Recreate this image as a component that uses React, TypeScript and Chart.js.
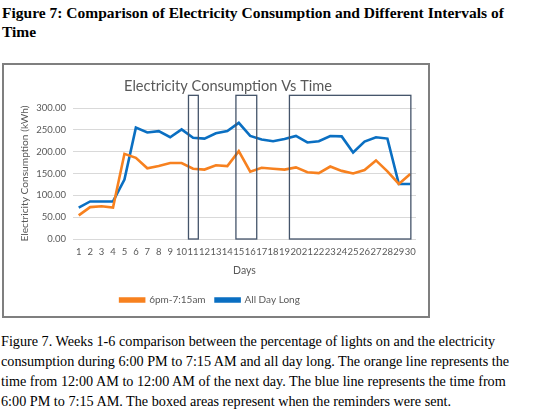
import { useEffect, useRef } from 'react';
import { Chart, registerables } from 'chart.js';

Chart.register(...registerables);

const days = ['1', '2', '3', '4', '5', '6', '7', '8', '9', '10', '11', '12', '13', '14', '15', '16', '17', '18', '19', '20', '21', '22', '23', '24', '25', '26', '27', '28', '29', '30'];
const eveningUse = [54, 73, 75, 72, 195, 186, 162, 167, 174, 174, 161, 159, 169, 167, 201, 154, 163, 161, 159, 164, 153, 151, 166, 156, 150, 158, 180, 155, 126, 149];
const allDayUse = [72, 86, 86, 86, 136, 255, 244, 247, 233, 251, 232, 230, 242, 247, 266, 236, 228, 224, 229, 236, 221, 224, 236, 235, 198, 223, 233, 230, 126, 126];
const yTickValues = [0, 50, 100, 150, 200, 250, 300];

// reminder periods, in days (boxes on the chart)
const reminderStart = [10.6, 14.75, 19.43];
const reminderEnd = [11.46, 16.57, 30.05];
const reminderTop = 329;

const ORANGE = '#F7811F';
const BLUE = '#0A6FC2';
const TEXT = '#595959';
const FONT = "Lato, 'Open Sans', sans-serif";

const reminderBoxes = {
  id: 'reminderBoxes',
  afterDatasetsDraw(chart: Chart) {
    const { ctx, scales: { x, y } } = chart;
    ctx.save();
    ctx.strokeStyle = '#44546A';
    ctx.lineWidth = 1.3;
    reminderStart.forEach((s, i) => {
      const left = x.getPixelForValue(s - 1);
      const right = x.getPixelForValue(reminderEnd[i] - 1);
      const top = y.getPixelForValue(reminderTop);
      const bottom = y.getPixelForValue(0);
      ctx.strokeRect(left, top, right - left, bottom - top);
    });
    ctx.restore();
  },
};

const chartTitle = {
  id: 'chartTitle',
  afterDraw(chart: Chart) {
    const { ctx } = chart;
    ctx.save();
    ctx.fillStyle = TEXT;
    ctx.font = `14.6px ${FONT}`;
    ctx.textAlign = 'center';
    ctx.textBaseline = 'middle';
    ctx.fillText('Electricity Consumption Vs Time', 224, 21);
    ctx.restore();
  },
};

function ConsumptionChart() {
  const canvasRef = useRef<HTMLCanvasElement>(null);
  const chartRef = useRef<Chart | null>(null);

  useEffect(() => {
    if (!canvasRef.current) return;
    chartRef.current?.destroy();

    chartRef.current = new Chart(canvasRef.current, {
      type: 'line',
      data: {
        labels: days,
        datasets: [
          {
            label: '6pm-7:15am',
            data: eveningUse,
            borderColor: ORANGE,
            backgroundColor: ORANGE,
            borderWidth: 2.6,
            pointRadius: 0,
            tension: 0,
          },
          {
            label: 'All Day Long',
            data: allDayUse,
            borderColor: BLUE,
            backgroundColor: BLUE,
            borderWidth: 2.6,
            pointRadius: 0,
            tension: 0,
          },
        ],
      },
      options: {
        animation: false,
        responsive: true,
        maintainAspectRatio: false,
        layout: { padding: { top: 43, right: 12, bottom: 1, left: 0 } },
        plugins: {
          title: { display: false },
          tooltip: { enabled: false },
          legend: {
            position: 'bottom',
            labels: {
              boxWidth: 24,
              boxHeight: 3,
              padding: 10,
              color: TEXT,
              font: { size: 10, family: FONT },
            },
          },
        },
        scales: {
          x: {
            offset: true,
            grid: { display: false, drawTicks: false },
            border: { display: false },
            ticks: {
              autoSkip: false,
              maxRotation: 0,
              minRotation: 0,
              padding: 7,
              color: TEXT,
              font: { size: 9.5, family: FONT },
            },
            title: {
              display: true,
              text: 'Days',
              color: TEXT,
              font: { size: 10.5, family: FONT },
              padding: { top: 0, bottom: 8 },
            },
          },
          y: {
            min: 0,
            max: 300,
            afterBuildTicks: (scale) => {
              scale.ticks = yTickValues.map(v => ({ value: v }));
            },
            afterFit: (scale) => {
              scale.width = 69;
            },
            grid: { color: '#D9D9D9', drawTicks: false },
            border: { display: false },
            ticks: {
              padding: 7,
              color: TEXT,
              font: { size: 9.5, family: FONT },
              callback: (v) => Number(v).toFixed(2),
            },
            title: {
              display: true,
              text: 'Electricity Consumption (kWh)',
              color: TEXT,
              font: { size: 10.2, family: FONT },
              padding: { top: 15, bottom: 0 },
            },
          },
        },
      },
      plugins: [reminderBoxes, chartTitle],
    });

    return () => { chartRef.current?.destroy(); };
  }, []);

  return (
    <div style={{ position: 'absolute', left: 2, top: 63, width: 428, height: 255, border: '2px solid #7F7F7F', boxSizing: 'border-box', background: '#fff' }}>
      <canvas ref={canvasRef} />
    </div>
  );
}

export default function App() {
  return (
    <div style={{ position: 'absolute', left: 0, top: 0, width: 541, height: 409, background: '#fff', fontFamily: "'Liberation Serif', 'Times New Roman', serif", color: '#000' }}>
      <div style={{ position: 'absolute', left: 2, top: 2.6, fontWeight: 'bold', fontSize: 15.5, lineHeight: '19.4px', whiteSpace: 'nowrap' }}>
        Figure 7: Comparison of Electricity Consumption and Different Intervals of<br />Time
      </div>
      <ConsumptionChart />
      <div style={{ position: 'absolute', left: 1, top: 330.5, fontSize: 14.2, lineHeight: '20.2px', whiteSpace: 'nowrap' }}>
        Figure 7. Weeks 1-6 comparison between the percentage of lights on and the electricity<br />
        consumption during 6:00 PM to 7:15 AM and all day long. The orange line represents the<br />
        time from 12:00 AM to 12:00 AM of the next day. The blue line represents the time from<br />
        6:00 PM to 7:15 AM. The boxed areas represent when the reminders were sent.
      </div>
    </div>
  );
}
